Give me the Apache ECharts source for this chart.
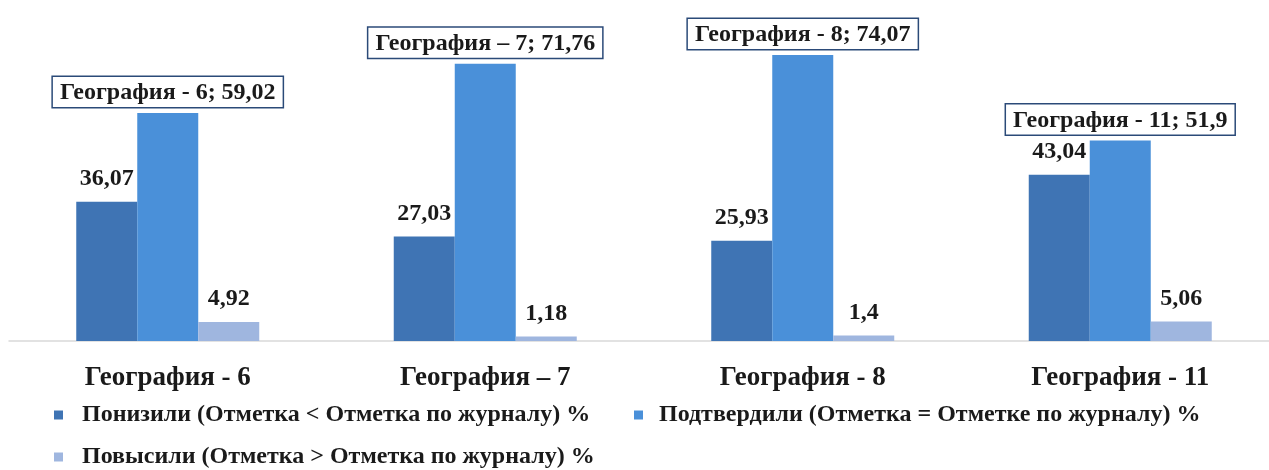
<!DOCTYPE html>
<html><head><meta charset="utf-8">
<script src="https://cdn.jsdelivr.net/npm/echarts@6/dist/echarts.min.js"></script>
<style>html,body{margin:0;padding:0;background:#fff}#c{width:1269px;height:470px}</style>
</head><body><div id="c"></div>
<script>
const categories = ['География - 6', 'География – 7', 'География - 8', 'География - 11'];
const seriesNames = [
  'Понизили (Отметка < Отметка по журналу) %',
  'Подтвердили (Отметка = Отметке по журналу) %',
  'Повысили (Отметка > Отметка по журналу) %'
];
const lowered = [36.07, 27.03, 25.93, 43.04];
const confirmed = [59.02, 71.76, 74.07, 51.9];
const raised = [4.92, 1.18, 1.4, 5.06];

const colors = ['#3f74b4', '#4a90d9', '#9fb6df'];
const font = '"Liberation Serif", "Times New Roman", serif';
const fmt = v => String(v).replace('.', ',');

const chart = echarts.init(document.getElementById('c'));
const plainLabel = {
  show: true, position: 'top', distance: 11,
  fontFamily: font, fontWeight: 'bold', fontSize: 24, color: '#1a1a1a',
  formatter: p => fmt(p.value)
};
const legendBase = {
  icon: 'rect', itemWidth: 9, itemHeight: 9, itemGap: 10, padding: 0,
  textStyle: { fontFamily: font, fontWeight: 'bold', fontSize: 24, lineHeight: 24,
               color: '#1a1a1a', padding: [0, 0, 0, 14] }
};
chart.setOption({
  animation: false,
  backgroundColor: '#fff',
  grid: { left: 9, top: 32, width: 1270, height: 309, outerBoundsMode: 'none' },
  xAxis: {
    type: 'category', data: categories,
    axisLine: { lineStyle: { color: '#d9d9d9', width: 1.5 } },
    axisTick: { show: false },
    axisLabel: { fontFamily: font, fontWeight: 'bold', fontSize: 27, color: '#1a1a1a', margin: 24 }
  },
  yAxis: { type: 'value', min: 0, max: 80, show: false, splitLine: { show: false } },
  legend: [
    Object.assign({}, legendBase, { data: [seriesNames[0]], left: 54, top: 403 }),
    Object.assign({}, legendBase, { data: [seriesNames[1]], left: 634, top: 403,
      textStyle: Object.assign({}, legendBase.textStyle, { padding: [0, 0, 0, 11] }) }),
    Object.assign({}, legendBase, { data: [seriesNames[2]], left: 54, top: 445 })
  ],
  series: [
    { name: seriesNames[0], type: 'bar', data: lowered, barWidth: 61, barGap: '0%',
      itemStyle: { color: colors[0] }, label: plainLabel },
    { name: seriesNames[1], type: 'bar', data: confirmed, barWidth: 61, barGap: '0%',
      itemStyle: { color: colors[1] },
      label: Object.assign({}, plainLabel, {
        distance: 6, backgroundColor: '#fff', borderColor: '#2b4a78', borderWidth: 1.5,
        padding: [4, 7, 2, 7],
        formatter: p => p.name + '; ' + fmt(p.value)
      }) },
    { name: seriesNames[2], type: 'bar', data: raised, barWidth: 61, barGap: '0%',
      itemStyle: { color: colors[2] }, label: plainLabel }
  ]
});
</script></body></html>
